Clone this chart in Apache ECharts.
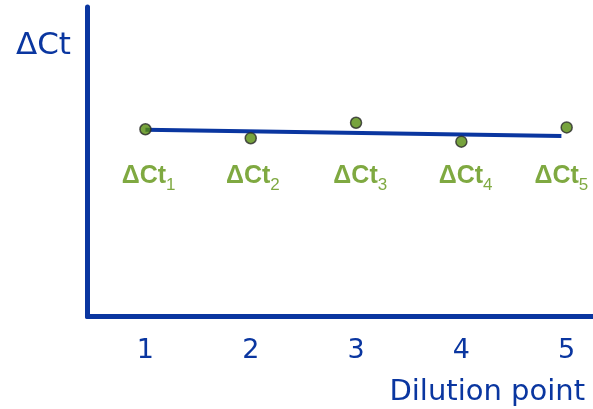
<!DOCTYPE html>
<html>
<head>
<meta charset="utf-8">
<script src="https://cdn.jsdelivr.net/npm/echarts@6/dist/echarts.min.js"></script>
<style>
html, body { margin: 0; padding: 0; background: #fff; }
#main { width: 593px; height: 409px; }
</style>
</head>
<body>
<div id="main"></div>
<script>
// dilution points and the delta Ct
var dilution = [1, 2, 3, 4, 5];
var deltaCt = [6.05, 5.76, 6.26, 5.65, 6.11];
var pointNames = ['1', '2', '3', '4', '5'];
// straight trend line, start and end
var trendX = [1, 4.95];
var trendY = [6.03, 5.83];
// where the ΔCt labels sit (x in dilution units, y in ΔCt units)
var labelX = [1.03, 2.02, 3.04, 4.04, 4.95];
var labelLevel = 4.55;

var blue = '#0a36a0';
var green = '#5f9412';

var chart = echarts.init(document.getElementById('main'));

var pts = [];
var labs = [];
for (var i = 0; i < dilution.length; i++) {
    pts.push([dilution[i], deltaCt[i]]);
    labs.push({ value: [labelX[i], labelLevel], name: pointNames[i] });
}
var trend = [];
for (var j = 0; j < trendX.length; j++) {
    trend.push([trendX[j], trendY[j]]);
}

var option = {
    animation: false,
    title: [
        {
            text: 'ΔCt',
            left: 11, top: 25,
            textStyle: { fontFamily: 'DejaVu Sans', fontSize: 31, fontWeight: 'normal', color: blue }
        },
        {
            text: 'Dilution point',
            right: 3, bottom: -3,
            textStyle: { fontFamily: 'DejaVu Sans', fontSize: 29, fontWeight: 'normal', color: blue }
        }
    ],
    grid: { left: 87.5, right: 0, top: 7, bottom: 92.5 },
    xAxis: {
        type: 'value',
        min: 0.45,
        max: 5.25,
        splitLine: { show: false },
        axisTick: { show: false },
        axisLine: { show: true, lineStyle: { color: blue, width: 5 } },
        axisLabel: {
            customValues: dilution,
            margin: 21,
            fontFamily: 'DejaVu Sans',
            fontSize: 27,
            color: blue
        }
    },
    yAxis: {
        type: 'value',
        min: 0,
        max: 10,
        splitLine: { show: false },
        axisTick: { show: false },
        axisLabel: { show: false },
        axisLine: { show: true, onZero: false, lineStyle: { color: blue, width: 5 } }
    },
    series: [
        {
            type: 'line',
            data: trend,
            symbol: 'none',
            lineStyle: { color: blue, width: 4 },
            z: 2
        },
        {
            type: 'scatter',
            data: pts,
            symbolSize: 11,
            itemStyle: { color: '#558c0c', borderColor: '#2b2b2b', borderWidth: 1.5 },
            z: 3
        },
        {
            type: 'scatter',
            data: labs,
            symbolSize: 0,
            silent: true,
            label: {
                show: true,
                position: 'inside',
                formatter: function (p) { return '{b|ΔCt}{s|' + p.name + '}'; },
                rich: {
                    b: { fontFamily: 'Liberation Sans', fontSize: 25, fontWeight: 'bold', color: green },
                    s: { fontFamily: 'Liberation Sans', fontSize: 17, color: green, verticalAlign: 'bottom', padding: [20, 0, 0, 0] }
                }
            }
        }
    ]
};

chart.setOption(option);
</script>
</body>
</html>
